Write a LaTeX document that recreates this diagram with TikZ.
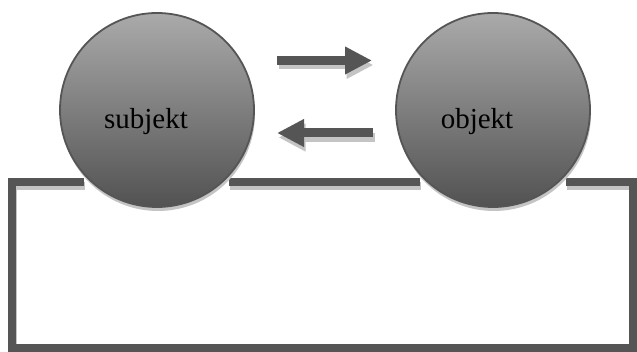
\documentclass[tikz,border=0pt]{standalone}
\usepackage{fontspec}
\setmainfont{Liberation Serif}
\usepackage{tikz}
\usetikzlibrary{calc}
\usetikzlibrary{arrows.meta}
\usetikzlibrary{shadows}

\definecolor{darkline}{RGB}{85,85,85}
\definecolor{shadowgray}{RGB}{196,196,196}
\definecolor{balltop}{RGB}{170,170,170}
\definecolor{ballbottom}{RGB}{82,82,82}

\tikzset{
    ball/.style={circle, minimum size=194pt, inner sep=0pt, line width=1.8pt,
        draw=darkline, top color=balltop, bottom color=ballbottom,
        drop shadow={shadow xshift=1pt, shadow yshift=-4pt, fill=shadowgray, opacity=1}},
    frameline/.style={line width=8pt, darkline},
    frameshadow/.style={line width=8pt, shadowgray, transform canvas={shift={(1pt,-4pt)}}},
    bigarrow/.style={line width=9pt, darkline, -{Triangle[length=27pt, width=26pt]}},
    bigshadow/.style={line width=9pt, shadowgray, -{Triangle[length=27pt, width=26pt]},
        transform canvas={shift={(1.5pt,-4.5pt)}}},
    word/.style={anchor=base, font=\fontsize{29}{32}\selectfont}
}

\begin{document}
\begin{tikzpicture}[x=1pt, y=1pt]
        \useasboundingbox (0,0) rectangle (637,352);

        % frame
        % -----
        % points
        \coordinate (Ls) at (84,170);
        \coordinate (TL) at (12,170);
        \coordinate (BL) at (12,3.5);
        \coordinate (BR) at (633,3.5);
        \coordinate (TR) at (633,170);
        \coordinate (Rs) at (566,170);
        \coordinate (Ms) at (229,170);
        \coordinate (Me) at (420,170);

        % shadow first, then the line
        \draw[frameshadow] (Ls) -- (TL) -- (BL) -- (BR) -- (TR) -- (Rs);
        \draw[frameshadow] (Ms) -- (Me);
        \draw[frameline] (Ls) -- (TL) -- (BL) -- (BR) -- (TR) -- (Rs);
        \draw[frameline] (Ms) -- (Me);

        % circles
        % -------
        \node[ball] (subjekt) at (157,242) {};
        \node[ball] (objekt) at (493,242) {};

        % add labels
        \node[word] (subjektlabel) at ([xshift=-11pt, yshift=-19pt]subjekt.center) {subjekt};
        \node[word] (objektlabel) at ([xshift=-16pt, yshift=-19pt]objekt.center) {objekt};

        % arrows
        % ------
        \coordinate (Ta) at (277,291.5);
        \coordinate (Tb) at (372,291.5);
        \coordinate (Ba) at (373,219);
        \coordinate (Bb) at (277,219);

        \draw[bigshadow] (Ta) -- (Tb);
        \draw[bigshadow] (Ba) -- (Bb);
        \draw[bigarrow] (Ta) -- (Tb);
        \draw[bigarrow] (Ba) -- (Bb);

    \end{tikzpicture}
\end{document}
